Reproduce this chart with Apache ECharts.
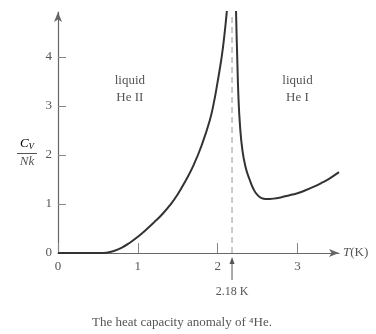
<!DOCTYPE html>
<html>
<head>
<meta charset="utf-8">
<script src="https://cdn.jsdelivr.net/npm/echarts@6/dist/echarts.min.js"></script>
<style>
  html, body { margin: 0; padding: 0; background: #fff; }
  #chart { width: 376px; height: 334px; }
</style>
</head>
<body>
<div id="chart"></div>
<script>
// He II branch (below the lambda point)
const belowT = [0, 0.55, 0.6, 0.7, 0.8, 0.9, 1.0, 1.1, 1.2, 1.3, 1.4, 1.5, 1.6, 1.7, 1.8, 1.9, 1.95, 2.0, 2.05, 2.08, 2.11, 2.13];
const belowC = [0, 0, 0.005, 0.04, 0.11, 0.21, 0.33, 0.47, 0.62, 0.78, 0.97, 1.2, 1.48, 1.8, 2.2, 2.7, 3.05, 3.5, 4.0, 4.38, 4.85, 5.2];
// He I branch (above the lambda point)
const aboveT = [2.225, 2.235, 2.245, 2.26, 2.28, 2.31, 2.35, 2.4, 2.45, 2.5, 2.55, 2.6, 2.7, 2.8, 2.9, 3.0, 3.1, 3.2, 3.3, 3.4, 3.52];
const aboveC = [5.3, 4.6, 4.0, 3.2, 2.6, 2.1, 1.75, 1.5, 1.3, 1.18, 1.12, 1.1, 1.11, 1.14, 1.18, 1.22, 1.28, 1.35, 1.43, 1.52, 1.65];
const xTicks = [0, 1, 2, 3];
const yTicks = [0, 1, 2, 3, 4];
const lambdaT = 2.18;

const serif = 'Liberation Serif';
const ink = '#555';

const zip = (xs, ys) => xs.map((x, i) => [x, ys[i]]);

const chart = echarts.init(document.getElementById('chart'));

chart.setOption({
  animation: false,
  textStyle: { fontFamily: serif },
  grid: { left: 58, right: 37, top: 12, bottom: 81 },
  xAxis: {
    type: 'value',
    min: 0,
    max: 3.52,
    name: '{i|T}(K)',
    nameGap: 4,
    nameTextStyle: {
      color: ink, fontSize: 13, fontFamily: serif,
      rich: { i: { fontStyle: 'italic', fontSize: 13, fontFamily: serif, color: ink } }
    },
    axisLine: {
      lineStyle: { color: '#666', width: 1.2 },
      symbol: ['none', 'arrow'],
      symbolSize: [6, 10]
    },
    axisTick: { inside: true, length: 10, lineStyle: { color: '#888' }, customValues: xTicks },
    axisLabel: { color: ink, fontSize: 13, fontFamily: serif, margin: 7, customValues: xTicks },
    splitLine: { show: false }
  },
  yAxis: {
    type: 'value',
    min: 0,
    max: 4.92,
    axisLine: {
      show: true,
      lineStyle: { color: '#666', width: 1.2 },
      symbol: ['none', 'arrow'],
      symbolSize: [6, 10]
    },
    axisTick: { show: true, inside: true, length: 8, lineStyle: { color: '#888' }, customValues: yTicks },
    axisLabel: { color: ink, fontSize: 13, fontFamily: serif, margin: 6, customValues: yTicks },
    splitLine: { show: false }
  },
  series: [
    {
      type: 'line',
      data: zip(belowT, belowC),
      smooth: 0.5,
      showSymbol: false,
      clip: true,
      lineStyle: { color: '#333', width: 2 }
    },
    {
      type: 'line',
      data: zip(aboveT, aboveC),
      smooth: 0.5,
      showSymbol: false,
      clip: true,
      lineStyle: { color: '#333', width: 2 }
    },
    {
      type: 'line',
      data: [[lambdaT, 0], [lambdaT, 4.9]],
      showSymbol: false,
      silent: true,
      lineStyle: { color: '#aaa', type: [6, 4], width: 1.2 },
      z: 1
    }
  ]
});

// annotations positioned through the axes
const px = (x, y) => chart.convertToPixel({ gridIndex: 0 }, [x, y]);
const lam = px(lambdaT, 0);
const heII = px(0.9, 3.35);
const heI = px(3.0, 3.35);
const textBase = { fontFamily: serif, fontSize: 13, fill: ink, align: 'center', verticalAlign: 'middle', lineHeight: 17 };

chart.setOption({
  graphic: [
    { type: 'text', x: heII[0], y: heII[1], style: Object.assign({ text: 'liquid\nHe II' }, textBase) },
    { type: 'text', x: heI[0], y: heI[1], style: Object.assign({ text: 'liquid\nHe I' }, textBase) },
    {
      type: 'line',
      shape: { x1: lam[0], y1: lam[1] + 27, x2: lam[0], y2: lam[1] + 7 },
      style: { stroke: '#555', lineWidth: 1 }
    },
    {
      type: 'polygon',
      shape: { points: [[lam[0], lam[1] + 4], [lam[0] - 2.5, lam[1] + 11], [lam[0] + 2.5, lam[1] + 11]] },
      style: { fill: '#555' }
    },
    { type: 'text', x: lam[0], y: lam[1] + 39, style: Object.assign({}, textBase, { text: '2.18 K', fontSize: 12 }) },
    {
      type: 'text', x: 27, y: 144,
      style: {
        text: '{c|C}{s|V}', align: 'center', verticalAlign: 'middle',
        rich: {
          c: { fontFamily: serif, fontStyle: 'italic', fontSize: 13, color: ink },
          s: { fontFamily: serif, fontStyle: 'italic', fontSize: 9, color: ink, verticalAlign: 'bottom', padding: [6, 0, 0, 0] }
        }
      }
    },
    {
      type: 'line',
      shape: { x1: 17, y1: 153.5, x2: 37, y2: 153.5 },
      style: { stroke: ink, lineWidth: 1 }
    },
    {
      type: 'text', x: 27, y: 162,
      style: { text: 'Nk', fontFamily: serif, fontStyle: 'italic', fontSize: 13, fill: ink, align: 'center', verticalAlign: 'middle' }
    },
    {
      type: 'text', x: 182, y: 323,
      style: { text: 'The heat capacity anomaly of \u2074He.', fontFamily: serif, fontSize: 13, fill: ink, align: 'center', verticalAlign: 'middle' }
    }
  ]
});
</script>
</body>
</html>
